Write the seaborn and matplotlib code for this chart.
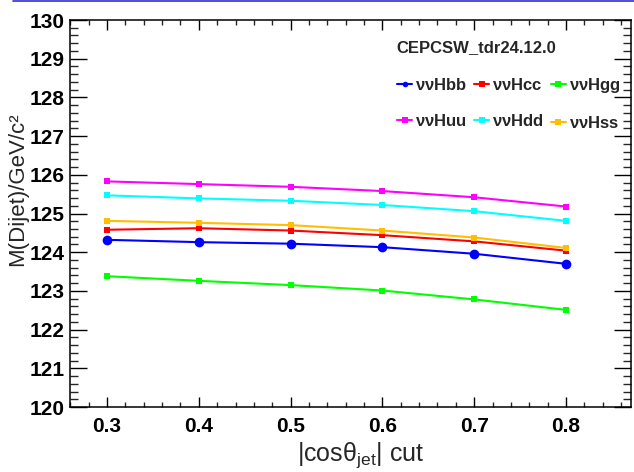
import matplotlib
matplotlib.use("Agg")
import matplotlib.pyplot as plt
import seaborn as sns
import pandas as pd
from matplotlib import font_manager
from matplotlib.lines import Line2D
from matplotlib.ticker import MultipleLocator

# ── data ───────────────────────────────────────────────────────────────────
cut = [0.3, 0.4, 0.5, 0.6, 0.7, 0.8]
m_hbb = [124.32, 124.26, 124.22, 124.13, 123.96, 123.70]
m_hcc = [124.58, 124.62, 124.56, 124.44, 124.28, 124.04]
m_hgg = [123.38, 123.26, 123.15, 123.01, 122.78, 122.51]
m_huu = [125.83, 125.76, 125.69, 125.58, 125.42, 125.18]
m_hdd = [125.47, 125.39, 125.33, 125.22, 125.06, 124.81]
m_hss = [124.81, 124.76, 124.70, 124.56, 124.38, 124.11]

labels = [r"$\mathregular{\nu\nu}$Hbb", r"$\mathregular{\nu\nu}$Hcc",
          r"$\mathregular{\nu\nu}$Hgg", r"$\mathregular{\nu\nu}$Huu",
          r"$\mathregular{\nu\nu}$Hdd", r"$\mathregular{\nu\nu}$Hss"]
series = [m_hbb, m_hcc, m_hgg, m_huu, m_hdd, m_hss]
colors = ["#0000ff", "#ff0000", "#00ff00", "#ff00ff", "#00ffff", "#ffbf00"]
x_ticks = [0.3, 0.4, 0.5, 0.6, 0.7, 0.8]
y_ticks = list(range(120, 131))

sns.set_theme(style="ticks")
plt.rcParams["font.family"] = ["Liberation Sans", "DejaVu Sans"]

# tick labels in the reference are a tall, narrow bold face
installed = {f.name for f in font_manager.fontManager.ttflist}
if "Liberation Sans Narrow" in installed:
    tick_font, tick_size = "Liberation Sans Narrow", 17
else:
    tick_font, tick_size = "Liberation Sans", 15

fig = plt.figure(figsize=(6.34, 4.72), dpi=100)
ax = fig.add_axes([0.1104, 0.1377, 0.8849, 0.8199])

for i, (lab, vals, col) in enumerate(zip(labels, series, colors)):
    df = pd.DataFrame({"cut": cut, "mass": vals})
    big = i == 0  # Hbb drawn with larger round markers
    sns.lineplot(data=df, x="cut", y="mass", color=col, ax=ax,
                 marker="o" if big else "s", markersize=7 if big else 4,
                 markeredgewidth=0, linewidth=1.5, label=lab)

ax.set_xlim(0.2597, 0.8708)
ax.set_ylim(120, 130)
ax.set_xticks(x_ticks)
ax.set_yticks(y_ticks)
ax.xaxis.set_minor_locator(MultipleLocator(0.02))
ax.yaxis.set_minor_locator(MultipleLocator(0.2))
ax.set_xticklabels([f"{v:.1f}" for v in x_ticks], fontweight="bold",
                   fontsize=tick_size, fontfamily=tick_font)
ax.set_yticklabels([str(v) for v in y_ticks], fontweight="bold",
                   fontsize=tick_size, fontfamily=tick_font)

ax.tick_params(axis="x", which="major", direction="in", length=7, width=1,
               top=True, pad=7, colors="black")
ax.tick_params(axis="x", which="minor", direction="in", length=3.5, width=1, top=True)
ax.tick_params(axis="y", which="major", direction="in", length=12.5, width=1,
               right=True, pad=4, colors="black")
ax.tick_params(axis="y", which="minor", direction="in", length=6, width=1, right=True)
for sp in ax.spines.values():
    sp.set_linewidth(1.1)
    sp.set_color("black")

ax.set_xlabel(r"|cos$\mathregular{\theta_{jet}}$| cut", fontsize=18)
ax.set_ylabel("M(Dijet)/GeV/c²", fontsize=16)
ax.xaxis.set_label_coords(0.518, -0.085)
ax.yaxis.set_label_coords(-0.074, 0.563)

# legend: header plus 3x2 grid filled row by row
ax.text(0.724, 0.93, "CEPCSW_tdr24.12.0", transform=ax.transAxes,
        fontsize=12, fontweight="bold", ha="center", va="center")
handles, labs = ax.get_legend_handles_labels()
order = [0, 3, 1, 4, 2, 5]
leg = ax.legend([handles[i] for i in order], [labs[i] for i in order],
                ncol=3, frameon=False, loc="upper left",
                bbox_to_anchor=(0.571, 0.872),
                handlelength=0.9, handletextpad=0.2, columnspacing=0.4,
                labelspacing=1.2, borderaxespad=0,
                prop={"size": 12, "weight": "bold"})
for h in leg.legend_handles:
    h.set_markersize(4)

# thin blue canvas edge at the very top
fig.add_artist(Line2D([0.02, 1.0], [0.9985, 0.9985], color="#3030d0",
                      linewidth=1.2, transform=fig.transFigure))

fig.savefig("out.png", dpi=100)
